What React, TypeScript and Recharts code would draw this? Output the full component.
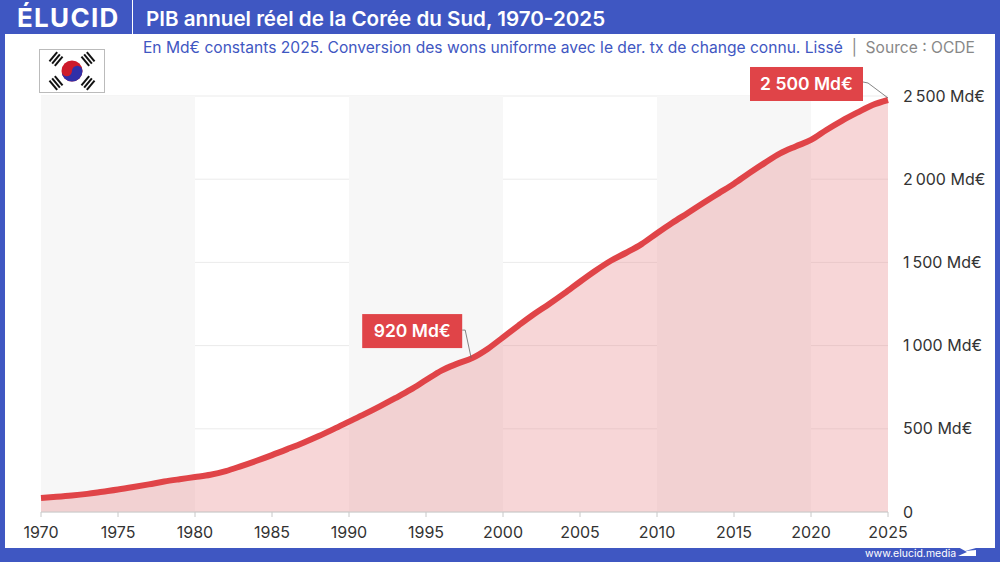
import { Area, AreaChart, CartesianGrid, ReferenceArea, ReferenceDot, XAxis, YAxis } from "recharts";

const years = [
  1970, 1971, 1972, 1973, 1974, 1975, 1976, 1977, 1978, 1979,
  1980, 1981, 1982, 1983, 1984, 1985, 1986, 1987, 1988, 1989,
  1990, 1991, 1992, 1993, 1994, 1995, 1996, 1997, 1998, 1999,
  2000, 2001, 2002, 2003, 2004, 2005, 2006, 2007, 2008, 2009,
  2010, 2011, 2012, 2013, 2014, 2015, 2016, 2017, 2018, 2019,
  2020, 2021, 2022, 2023, 2024, 2025,
];
const gdp = [
  84, 91, 99, 109, 122, 135, 150, 166, 183, 197,
  210, 224, 246, 276, 308, 342, 378, 415, 455, 498,
  543, 588, 635, 684, 735, 793, 850, 890, 925, 980,
  1050, 1120, 1188, 1250, 1315, 1384, 1450, 1510, 1558, 1610,
  1675, 1738, 1797, 1857, 1915, 1973, 2037, 2098, 2155, 2197,
  2236, 2296, 2351, 2400, 2446, 2476,
];
const xTicks = [1970, 1975, 1980, 1985, 1990, 1995, 2000, 2005, 2010, 2015, 2020, 2025];
const yTicks = [0, 500, 1000, 1500, 2000, 2500];
const bands = [
  [1970, 1980],
  [1990, 2000],
  [2010, 2020],
];

const data = years.map((year, i) => ({ year, gdp: gdp[i] }));

const FONT = "Inter, 'Open Sans', sans-serif";
const BLUE = "#3f57c2";
const RED = "#e04448";

const formatY = (v: number) =>
  v === 0 ? "0" : `${String(v).replace(/\B(?=(\d{3})+$)/g, "\u2009")} Md€`;

// callout: red box + thin leader going to the point
function Callout({ cx, cy, text, x, y, w, leader }: any) {
  const h = 34;
  return (
    <g>
      <polyline
        points={leader.map((p: number[]) => `${cx + p[0]},${cy + p[1]}`).join(" ")}
        fill="none"
        stroke="#666"
        strokeWidth={0.8}
      />
      <rect x={cx + x} y={cy + y} width={w} height={h} fill={RED} />
      <text
        x={cx + x + w / 2}
        y={cy + y + h / 2 + 6}
        textAnchor="middle"
        fill="#fff"
        fontSize={17.5}
        fontWeight={600}
        fontFamily={FONT}
      >
        {text}
      </text>
    </g>
  );
}

function Flag() {
  const bars = (x: number, y: number, rot: number) => (
    <g transform={`translate(${x} ${y}) rotate(${rot})`} fill="#111">
      <rect x={-6} y={-4.5} width={12} height={2} />
      <rect x={-6} y={-1} width={12} height={2} />
      <rect x={-6} y={2.5} width={12} height={2} />
    </g>
  );
  return (
    <svg width={66} height={44} style={{ position: "absolute", left: 39, top: 49, display: "block" }}>
      <rect x={0.5} y={0.5} width={65} height={43} fill="#fff" stroke="#bbb" />
      <circle cx={33} cy={22} r={10.5} fill="#cd1a2b" />
      <path d="M22.5 22 a10.5 10.5 0 0 0 21 0 a5.25 5.25 0 0 0 -10.5 0 a5.25 5.25 0 0 1 -10.5 0" fill="#2f2fa8" />
      {bars(17, 10, -50)}
      {bars(49, 10, 50)}
      {bars(17, 34, 50)}
      {bars(49, 34, -50)}
    </svg>
  );
}

export default function App() {
  return (
    <div style={{ position: "fixed", left: 0, top: 0, width: 1000, height: 562, background: BLUE, overflow: "hidden", fontFamily: FONT }}>
      <div style={{ position: "absolute", left: 5, top: 34, width: 990, height: 514, background: "#fff" }} />

      <div style={{ position: "absolute", left: 17, top: 0, height: 34, lineHeight: "36px", color: "#fff", fontSize: 26, fontWeight: 700, letterSpacing: 1.3 }}>
        ÉLUCID
      </div>
      <div style={{ position: "absolute", left: 132, top: 0, width: 1, height: 34, background: "#fff" }} />
      <div style={{ position: "absolute", left: 146, top: 0, height: 34, lineHeight: "38px", color: "#fff", fontSize: 20.6, fontWeight: 600, whiteSpace: "nowrap" }}>
        PIB annuel réel de la Corée du Sud, 1970-2025
      </div>
      <div style={{ position: "absolute", right: 25, top: 38, color: BLUE, fontSize: 15.6, lineHeight: "20px", whiteSpace: "nowrap" }}>
        En Md€ constants 2025. Conversion des wons uniforme avec le der. tx de change connu. Lissé
        <span style={{ color: "#888" }}>{"\u00a0\u00a0|\u00a0\u00a0Source : OCDE"}</span>
      </div>
      <div style={{ position: "absolute", left: 865, top: 548, color: "#fff", fontSize: 10.5, lineHeight: "12px" }}>
        www.elucid.media
      </div>
      <svg width={22} height={18} style={{ position: "absolute", left: 957, top: 540 }}>
        <path d="M1 7 L19 1 V8 L8 11 L19 10 V16 H1 L10 12 Z" fill="#fff" />
      </svg>

      <Flag />

      <div style={{ position: "absolute", left: 0, top: 0 }}>
        <AreaChart width={1000} height={562} data={data} margin={{ top: 96, right: 0, bottom: 0, left: 41 }}>
          {bands.map(([a, b]) => (
            <ReferenceArea key={a} x1={a} x2={b} y1={0} y2={2500} fill="#f7f7f7" fillOpacity={1} stroke="none" />
          ))}
          <CartesianGrid vertical={false} stroke="#ebebeb" strokeWidth={1} />
          <XAxis
            dataKey="year"
            type="number"
            domain={[1970, 2025]}
            ticks={xTicks}
            height={50}
            tickSize={5}
            tickMargin={10}
            stroke="#c8c8c8"
            tick={{ fill: "#333", fontSize: 16, fontFamily: FONT }}
          />
          <YAxis
            orientation="right"
            domain={[0, 2500]}
            ticks={yTicks}
            width={112}
            axisLine={false}
            tickLine={false}
            tickMargin={9}
            tickFormatter={formatY}
            tick={{ fill: "#333", fontSize: 16, fontFamily: FONT, textAnchor: "start" }}
          />
          <Area
            dataKey="gdp"
            type="monotone"
            stroke={RED}
            strokeWidth={6}
            fill="#e8898b"
            fillOpacity={0.35}
            isAnimationActive={false}
            dot={false}
            activeDot={false}
          />
          <ReferenceDot
            x={1998}
            y={925}
            shape={(p: any) => (
              <Callout {...p} text="920 Md€" x={-110} y={-44} w={100} leader={[[-1, 0], [-7, -28], [-10, -28]]} />
            )}
          />
          <ReferenceDot
            x={2025}
            y={2476}
            shape={(p: any) => (
              <Callout {...p} text="2 500 Md€" x={-138} y={-33} w={113} leader={[[0, -2], [-20, -17], [-25, -18]]} />
            )}
          />
        </AreaChart>
      </div>
    </div>
  );
}
